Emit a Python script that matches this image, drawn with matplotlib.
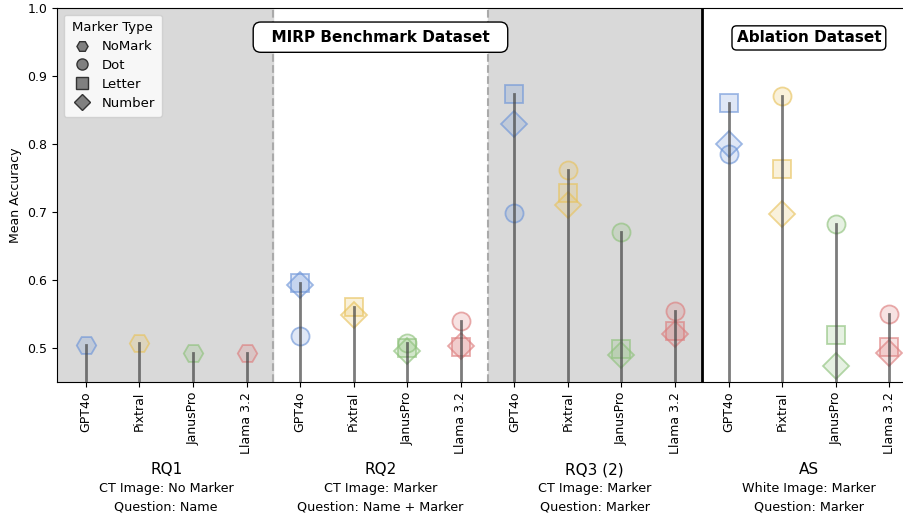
import numpy as np
import matplotlib.pyplot as plt
from matplotlib.lines import Line2D
from matplotlib.colors import to_rgba
from matplotlib.transforms import blended_transform_factory

models = ["GPT4o", "Pixtral", "JanusPro", "Llama 3.2"]
groups = ["RQ1", "RQ2", "RQ3 (2)", "AS"]
group_sub = [
    "CT Image: No Marker\nQuestion: Name",
    "CT Image: Marker\nQuestion: Name + Marker",
    "CT Image: Marker\nQuestion: Marker",
    "White Image: Marker\nQuestion: Marker",
]
marker_types = ["NoMark", "Dot", "Letter", "Number"]

# mean accuracy per group -> marker type -> model (None = not evaluated)
nomark = {"RQ1": [0.505, 0.507, 0.493, 0.493]}
dot = {
    "RQ2": [0.517, None, 0.507, 0.539],
    "RQ3 (2)": [0.699, 0.762, 0.670, 0.555],
    "AS": [0.786, 0.870, 0.683, 0.550],
}
letter = {
    "RQ2": [0.595, 0.560, 0.500, 0.502],
    "RQ3 (2)": [0.873, 0.728, 0.498, 0.525],
    "AS": [0.860, 0.763, 0.519, 0.502],
}
number = {
    "RQ2": [0.593, 0.549, 0.496, 0.503],
    "RQ3 (2)": [0.830, 0.711, 0.489, 0.521],
    "AS": [0.800, 0.697, 0.473, 0.493],
}

model_colors = ["#6f96d8", "#e8c35e", "#8fc27c", "#dd7f7f"]
shapes = {"NoMark": "H", "Dot": "o", "Letter": "s", "Number": "D"}
sizes = {"NoMark": 14, "Dot": 13, "Letter": 13, "Number": 13}
data = {"NoMark": nomark, "Dot": dot, "Letter": letter, "Number": number}

ymin = 0.45

fig = plt.figure(figsize=(9.04, 5.18), dpi=100)
ax = fig.add_axes([57 / 904, 136 / 518, 859 / 904, 374 / 518])
ax.set_xlim(-0.54, 15.5)
ax.set_ylim(ymin, 1.0)

# shaded regions
ax.axvspan(-0.54, 3.5, color="#d9d9d9", zorder=0)
ax.axvspan(7.5, 11.5, color="#d9d9d9", zorder=0)
ax.axvline(3.5, color="#aaaaaa", linestyle="--", lw=1.5, zorder=1)
ax.axvline(7.5, color="#aaaaaa", linestyle="--", lw=1.5, zorder=1)
ax.axvline(11.5, color="black", lw=2, zorder=1)

xticks = []
xlabels = []
for g, grp in enumerate(groups):
    for m, model in enumerate(models):
        x = g * 4 + m
        xticks.append(x)
        xlabels.append(model)
        vals = []
        for mt in marker_types:
            if grp in data[mt] and data[mt][grp][m] is not None:
                vals.append(data[mt][grp][m])
        c = model_colors[m]
        for mt in marker_types:
            if grp in data[mt] and data[mt][grp][m] is not None:
                ax.plot(x, data[mt][grp][m], marker=shapes[mt], markersize=sizes[mt],
                        markerfacecolor=to_rgba(c, 0.22),
                        markeredgecolor=to_rgba(c, 0.65),
                        markeredgewidth=1.3, linestyle="none", zorder=3)
        # stem drawn over the markers
        ax.plot([x, x], [ymin, max(vals)], color="#444444", lw=2, alpha=0.7, zorder=4)

ax.set_xticks(xticks)
ax.set_xticklabels(xlabels, rotation=90, fontsize=9)
ax.set_yticks([0.5, 0.6, 0.7, 0.8, 0.9, 1.0])
ax.tick_params(axis="y", labelsize=9)
ax.set_ylabel("Mean Accuracy", fontsize=9)
ax.spines["right"].set_visible(False)

trans = blended_transform_factory(ax.transData, ax.transAxes)
for g, grp in enumerate(groups):
    cx = g * 4 + 1.5
    ax.text(cx, -0.235, grp, transform=trans, ha="center", va="center", fontsize=11)
    ax.text(cx, -0.31, group_sub[g], transform=trans, ha="center", va="center",
            fontsize=9.2, linespacing=1.6)

ax.text(5.5, 0.922, "  MIRP Benchmark Dataset  ", transform=trans, ha="center", va="center",
        fontsize=11, fontweight="bold", zorder=5,
        bbox=dict(boxstyle="round,pad=0.5", facecolor="white", edgecolor="black", lw=1))
ax.text(13.5, 0.92, "Ablation Dataset", transform=trans, ha="center", va="center",
        fontsize=11, fontweight="bold", zorder=5,
        bbox=dict(boxstyle="round,pad=0.3", facecolor="white", edgecolor="black", lw=1))

handles = [
    Line2D([], [], marker=shapes[mt], linestyle="none", markersize=8,
           markerfacecolor="#808080", markeredgecolor="#333333", label=mt)
    for mt in marker_types
]
leg = ax.legend(handles=handles, title="Marker Type", loc="upper left", fontsize=9.5,
                title_fontsize=9.5, handletextpad=0.6, handlelength=1.8,
                borderpad=0.5, labelspacing=0.45)
leg.set_zorder(6)

fig.savefig("out.png", dpi=100)
